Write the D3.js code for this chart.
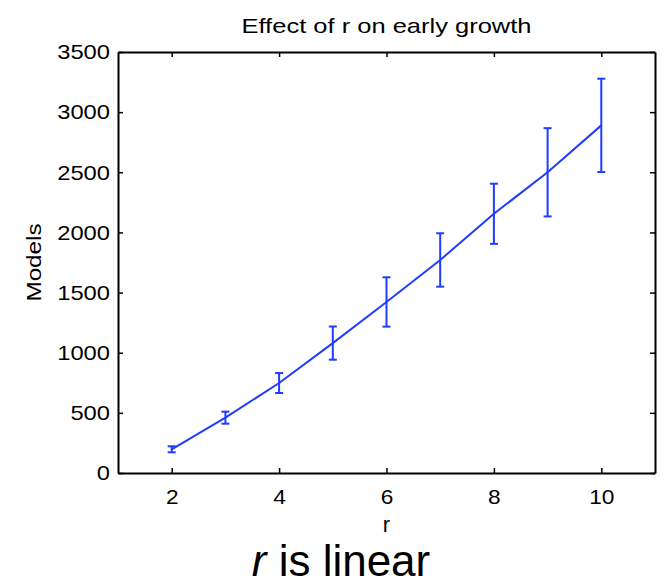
<!DOCTYPE html>
<html>
<head>
<meta charset="utf-8">
<script src="https://cdn.jsdelivr.net/npm/d3@7"></script>
<style>
  body { margin: 0; background: #fff; }
  svg text { font-family: "Liberation Sans", Arial, Helvetica, sans-serif; fill: #000; }
</style>
</head>
<body>
<svg id="chart" width="664" height="587"></svg>
<script>
// data
const rValues   = [2, 3, 4, 5, 6, 7, 8, 9, 10];
const meanModel = [197, 460, 748, 1080, 1422, 1771, 2155, 2500, 2890];
const errModel  = [25, 50, 83, 138, 205, 222, 250, 367, 388];
const xTicks    = [2, 4, 6, 8, 10];
const yTicks    = [0, 500, 1000, 1500, 2000, 2500, 3000, 3500];

const LINE_COLOR = "#1f3dff";

// ukuran area plot
const margin = { top: 52, right: 9, bottom: 114, left: 118 };
const width  = 664 - margin.left - margin.right;
const height = 587 - margin.top - margin.bottom;

const root = d3.select("#chart");
const svg = root.append("g")
  .attr("transform", `translate(${margin.left},${margin.top})`);

const x = d3.scaleLinear().domain([1, 11]).range([0, width]);
const y = d3.scaleLinear().domain([0, 3500]).range([height, 0]);

// lebarkan teks sedikit (font asli lebih lebar)
function stretch(sel, k) {
  sel.each(function() {
    const len = this.getComputedTextLength();
    d3.select(this).attr("textLength", len * k).attr("lengthAdjust", "spacingAndGlyphs");
  });
}

// sumbu bawah & kiri (tick ke dalam)
const xAxis = svg.append("g")
  .attr("transform", `translate(0,${height})`)
  .call(d3.axisBottom(x).tickValues(xTicks).tickFormat(d3.format("d"))
    .tickSizeInner(-5).tickSizeOuter(0).tickPadding(16));

const yAxis = svg.append("g")
  .call(d3.axisLeft(y).tickValues(yTicks).tickFormat(d3.format("d"))
    .tickSizeInner(-5).tickSizeOuter(0).tickPadding(8));

// sumbu atas & kanan (box)
const xTop = svg.append("g")
  .call(d3.axisTop(x).tickValues(xTicks).tickSizeInner(-5).tickSizeOuter(0).tickFormat(""));
const yRight = svg.append("g")
  .attr("transform", `translate(${width},0)`)
  .call(d3.axisRight(y).tickValues(yTicks).tickSizeInner(-5).tickSizeOuter(0).tickFormat(""));

[xAxis, yAxis, xTop, yRight].forEach(g => {
  g.select(".domain").attr("stroke", "#000").attr("stroke-width", 2);
  g.selectAll(".tick line").attr("stroke", "#000").attr("stroke-width", 1.5);
  g.selectAll("text").attr("font-size", 21).attr("fill", "#000")
    .attr("font-family", "Liberation Sans, Arial, sans-serif");
});
stretch(xAxis.selectAll("text"), 1.08);
stretch(yAxis.selectAll("text"), 1.13);

// garis rata-rata
const line = d3.line()
  .x((d, i) => x(rValues[i]))
  .y(d => y(d));

svg.append("path")
  .datum(meanModel)
  .attr("fill", "none")
  .attr("stroke", LINE_COLOR)
  .attr("stroke-width", 2)
  .attr("d", line);

// error bar
const bars = svg.selectAll(".err")
  .data(rValues.map((r, i) => ({ r, m: meanModel[i], e: errModel[i] })))
  .enter().append("g")
  .attr("class", "err")
  .attr("stroke", LINE_COLOR)
  .attr("stroke-width", 2);

bars.append("line")
  .attr("x1", d => x(d.r)).attr("x2", d => x(d.r))
  .attr("y1", d => y(d.m - d.e)).attr("y2", d => y(d.m + d.e));
bars.append("line")
  .attr("x1", d => x(d.r) - 4).attr("x2", d => x(d.r) + 4)
  .attr("y1", d => y(d.m + d.e)).attr("y2", d => y(d.m + d.e));
bars.append("line")
  .attr("x1", d => x(d.r) - 4).attr("x2", d => x(d.r) + 4)
  .attr("y1", d => y(d.m - d.e)).attr("y2", d => y(d.m - d.e));

// judul
root.append("text")
  .attr("x", margin.left + width / 2)
  .attr("y", 33)
  .attr("text-anchor", "middle")
  .attr("font-size", 21)
  .attr("textLength", 290)
  .attr("lengthAdjust", "spacingAndGlyphs")
  .text("Effect of r on early growth");

// label sumbu x
root.append("text")
  .attr("x", margin.left + x(6))
  .attr("y", 532)
  .attr("text-anchor", "middle")
  .attr("font-size", 22)
  .text("r");

// label sumbu y
root.append("text")
  .attr("transform", `translate(41,${margin.top + height / 2}) rotate(-90)`)
  .attr("text-anchor", "middle")
  .attr("font-size", 20)
  .attr("textLength", 78)
  .attr("lengthAdjust", "spacingAndGlyphs")
  .text("Models");

// keterangan bawah
const cap = root.append("text")
  .attr("x", 341)
  .attr("y", 576)
  .attr("text-anchor", "middle")
  .attr("font-size", 44);
cap.append("tspan").attr("font-style", "italic").text("r");
cap.append("tspan").text(" is linear");
</script>
</body>
</html>
